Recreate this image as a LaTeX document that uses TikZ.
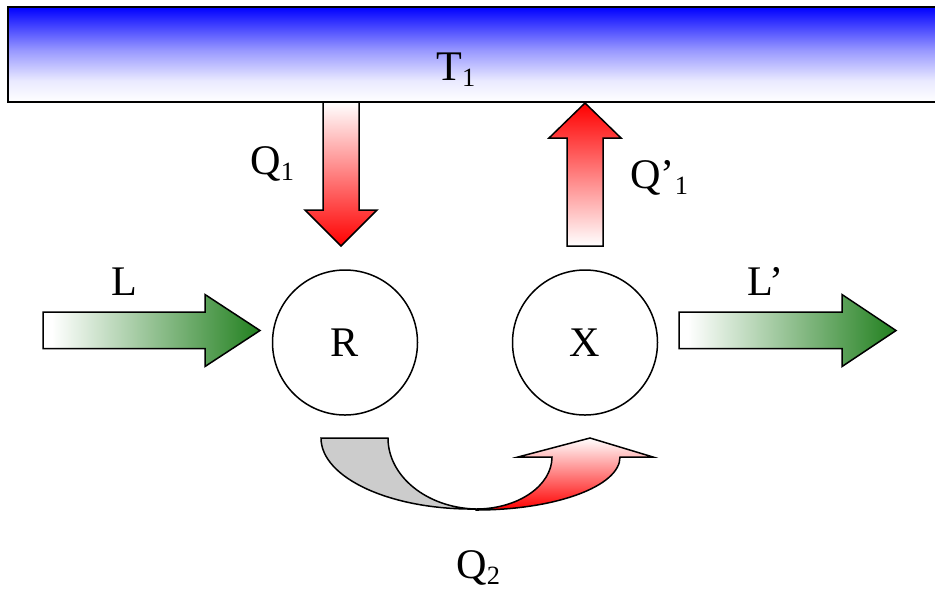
\documentclass[tikz,border=0pt]{standalone}
\usepackage{fontspec}
\setmainfont{Liberation Serif}
\usepackage{tikz}
\usetikzlibrary{calc}
\definecolor{heatred}{HTML}{FF0000}
\definecolor{flowgreen}{HTML}{22801F}
\definecolor{sinkblue}{HTML}{0000FF}
\definecolor{tailgray}{HTML}{CCCCCC}
\pgfdeclarehorizontalshading{flowshade}{100bp}{color(0bp)=(white); color(27bp)=(white);
  color(75bp)=(flowgreen); color(100bp)=(flowgreen)}
\pgfdeclareverticalshading{sinkshade}{100bp}{color(0bp)=(white); color(25bp)=(white);
  color(36bp)=(sinkblue!8); color(52bp)=(sinkblue!40); color(75bp)=(sinkblue); color(100bp)=(sinkblue)}
\newcommand{\idx}[1]{\raisebox{-3.5pt}{\fontsize{15}{15}\selectfont #1}}

\begin{document}
\begin{tikzpicture}[
  x=0.2mm,y=-0.2mm,
  tag/.style={font=\fontsize{24}{28}\selectfont,inner sep=0pt,anchor=base west},
  hull/.style={draw=black,line width=0.3mm,line join=miter},
  tank/.style={circle,draw=black,line width=0.3mm,minimum size=29mm,inner sep=0pt,
               font=\fontsize{24}{28}\selectfont}
]
  \useasboundingbox (0,0) rectangle (935,589);
  % hot reservoir
  \shade[shading=sinkshade] (8,7) rectangle (935,102);
  \draw[line width=0.45mm] (935,7) -- (8,7) -- (8,102) -- (935,102);
  \node[tag] (t1) at (436,80) {T\idx{1}};
  % the two machines
  \node[tank] (R) at (345,342.5) {R};
  \node[tank] (X) at (585,342.5) {X};
  % heat in and out of the reservoir
  \draw[hull,top color=white,bottom color=heatred]
    (323,102) -- (323,210) -- (305,210) -- (341,246) -- (377,210) -- (359,210) -- (359,102) -- cycle;
  \draw[hull,top color=heatred,bottom color=white]
    (567,246) -- (567,138) -- (549,138) -- (585,103) -- (621,138) -- (603,138) -- (603,246) -- cycle;
  \node[tag] (q1) at (250,174) {Q\idx{1}};
  \node[tag] (q1b) at (630,188) {Q’\idx{1}};
  % work
  \draw[hull,shading=flowshade]
    (43,312) -- (205,312) -- (205,294.5) -- (260,330.5) -- (205,366.5) -- (205,348.5) -- (43,348.5) -- cycle;
  \draw[hull,shading=flowshade]
    (679,312) -- (842,312) -- (842,294.5) -- (896,330.5) -- (842,366.5) -- (842,348.5) -- (679,348.5) -- cycle;
  \node[tag] (l) at (111.5,295.5) {L};
  \node[tag] (lb) at (747,295.5) {L’};
  % heat passed from R to X
  \draw[hull,fill=tailgray]
    (321,438) -- (388,438) .. controls (388,476.6) and (427.4,508) .. (476,509)
    .. controls (390.4,510) and (321,477.7) .. (321,438) -- cycle;
  \draw[hull,top color=white,bottom color=heatred]
    (476,509) .. controls (518,509) and (552,485.7) .. (552,457) -- (518,457) -- (590,438)
    -- (653,457) -- (620,457) .. controls (620,486.3) and (555.5,510) .. (476,510) -- cycle;
  \node[tag] (q2) at (456,578) {Q\idx{2}};
\end{tikzpicture}
\end{document}
